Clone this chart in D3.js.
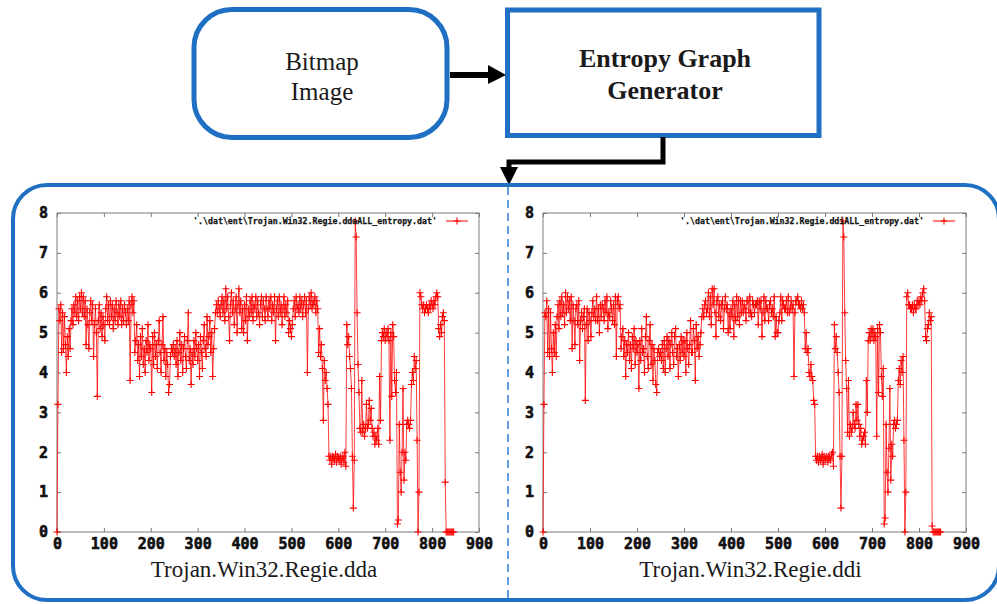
<!DOCTYPE html>
<html>
<head>
<meta charset="utf-8">
<script src="https://cdn.jsdelivr.net/npm/d3@7"></script>
<style>
  body { margin: 0; background: #fff; }
  svg { display: block; background: #fff; }
  .box { fill: none; stroke: #1f6fc2; stroke-width: 5; }
  .frame { fill: none; stroke: #7a7a7a; stroke-width: 1; }
  .tick line { stroke: #7a7a7a; }
  .series { fill: none; stroke: #ff0000; stroke-width: 0.9; stroke-opacity: 0.85; }
  .mark { fill: none; stroke: #ff0000; stroke-width: 1.1; }
</style>
</head>
<body>
<svg id="chart" width="997" height="604"></svg>
<script>
// entropy values, one every xStep blocks
const xStep = 2;

const ddaEntropy = [
  0.0, 3.2, 5.6, 5.3, 5.7, 4.5, 5.5, 4.6, 5.4, 4.7, 4.0, 4.9, 4.4, 5.1, 4.6, 5.3, 5.6, 5.2, 5.7, 5.5, 5.9, 5.4, 5.8, 5.3, 5.9,
  5.6, 6.0, 5.5, 5.9, 5.4, 5.8, 4.7, 5.6, 5.2, 4.6, 5.5, 5.8, 5.3, 5.7, 4.4, 5.2, 5.6, 5.0, 3.4, 5.3, 5.7, 5.1, 5.5, 4.9, 5.4,
  5.2, 4.8, 5.6, 5.9, 5.3, 5.7, 5.2, 5.8, 5.4, 5.7, 5.1, 5.6, 5.3, 5.8, 5.5, 5.2, 5.7, 5.4, 5.8, 5.2, 5.6, 5.3, 5.7, 5.5, 5.2,
  5.6, 5.3, 5.8, 3.8, 5.7, 5.9, 5.5, 5.8, 4.5, 4.8, 5.2, 4.3, 4.7, 3.9, 4.9, 4.4, 5.1, 4.2, 4.6, 4.0, 4.8, 4.5, 5.2, 4.3, 4.7,
  4.6, 3.5, 4.9, 4.2, 5.0, 4.4, 4.7, 4.1, 4.8, 5.3, 4.5, 4.0, 4.7, 5.4, 4.3, 4.6, 3.9, 4.5, 4.2, 3.5, 3.7, 4.4, 4.6, 4.5, 4.7,
  4.4, 4.6, 4.2, 4.8, 3.9, 4.5, 5.0, 4.3, 4.7, 4.0, 4.6, 4.9, 4.4, 4.1, 4.8, 5.5, 4.3, 4.6, 3.7, 4.5, 4.2, 4.8, 4.4, 5.0, 4.6,
  4.3, 4.7, 3.9, 4.9, 4.5, 4.1, 4.8, 5.2, 4.6, 4.4, 5.4, 4.7, 4.9, 5.3, 4.5, 5.0, 3.9, 4.6, 5.1, 5.5, 5.7, 5.5, 5.8, 5.6, 5.4,
  5.7, 5.9, 5.5, 5.8, 5.3, 6.1, 5.6, 5.9, 5.4, 4.8, 5.7, 6.0, 5.5, 5.8, 5.2, 5.6, 5.9, 5.0, 5.7, 6.1, 5.5, 5.8, 5.1, 5.6, 5.0,
  5.7, 5.3, 5.9, 4.8, 5.6, 5.4, 5.8, 5.5, 5.9, 5.3, 5.7, 5.6, 5.9, 5.4, 5.8, 5.5, 5.2, 5.7, 5.9, 5.4, 5.8, 5.6, 5.3, 5.9, 5.6,
  5.4, 5.8, 5.6, 5.9, 5.3, 5.7, 5.5, 5.9, 4.8, 5.6, 5.8, 5.4, 5.9, 5.5, 5.7, 5.2, 5.6, 5.9, 5.4, 5.7, 5.5, 5.8, 5.0, 5.3, 5.1,
  4.9, 5.2, 5.6, 5.8, 5.4, 5.9, 5.6, 5.7, 5.5, 5.9, 5.6, 5.8, 5.4, 5.7, 5.9, 5.5, 5.8, 4.0, 5.6, 5.9, 5.7, 6.0, 5.6, 5.8, 5.7,
  5.9, 5.5, 5.8, 5.6, 4.5, 5.1, 4.4, 4.7, 4.1, 2.8, 4.3, 3.8, 4.0, 3.6, 3.2, 1.9, 1.8, 1.9, 1.7, 1.9, 1.85, 1.8, 1.95, 1.75, 1.9,
  1.85, 1.8, 1.9, 1.7, 1.85, 1.9, 1.75, 2.0, 1.65, 5.2, 4.7, 4.9, 4.4, 4.1, 3.6, 1.9, 0.6, 1.8, 7.8, 7.4, 5.5, 4.2, 3.5, 2.6, 2.5,
  3.8, 2.5, 2.7, 2.4, 2.6, 3.2, 2.6, 2.7, 3.3, 2.8, 3.1, 2.6, 2.4, 2.5, 2.2, 2.4, 2.3, 2.6, 2.2, 3.9, 2.8, 4.8, 5.0, 4.9, 5.1,
  4.8, 5.0, 4.9, 5.1, 4.8, 2.3, 5.0, 3.4, 5.2, 4.9, 3.8, 3.5, 4.0, 0.2, 0.3, 2.7, 1.5, 1.0, 2.0, 3.6, 1.3, 2.0, 1.8, 2.7, 2.8,
  2.7, 2.6, 2.8, 3.7, 4.0, 3.8, 4.4, 4.1, 4.3, 2.3, 0.0, 1.0, 6.0, 5.9, 5.7, 5.6, 5.7, 5.5, 5.6, 5.7, 5.6, 5.5, 5.7, 5.6, 5.8,
  5.7, 5.6, 5.8, 5.7, 5.9, 6.0, 5.9, 5.1, 4.9, 5.2, 5.0, 5.4, 5.5, 5.3, 1.25, 0, 0, 0, 0, 0, 0, 0, 0, 0
];

const ddiEntropy = [
  0.0, 3.2, 5.5, 5.4, 5.8, 4.5, 5.6, 4.4, 5.5, 4.6, 4.0, 5.0, 4.5, 5.2, 4.4, 5.4, 5.7, 5.1, 5.8, 5.4, 5.9, 5.5, 5.7, 5.2, 6.0,
  5.5, 5.9, 5.6, 5.8, 5.3, 5.9, 4.6, 5.7, 5.3, 4.7, 5.6, 5.7, 5.2, 5.8, 4.3, 5.3, 5.5, 5.1, 5.4, 5.6, 3.3, 5.2, 5.6, 4.8, 5.5,
  5.3, 4.9, 5.5, 5.8, 5.4, 5.6, 5.3, 5.9, 5.3, 5.6, 5.0, 5.7, 5.4, 5.7, 5.6, 5.3, 5.8, 5.5, 5.9, 5.1, 5.5, 5.4, 5.8, 5.6, 5.3,
  5.7, 5.2, 5.9, 4.4, 5.8, 5.9, 5.6, 5.7, 4.6, 4.9, 5.1, 4.4, 4.8, 3.9, 4.7, 4.5, 5.0, 4.3, 4.7, 4.1, 4.9, 4.6, 5.1, 4.2, 4.8,
  4.5, 4.7, 3.6, 4.8, 4.3, 5.1, 4.5, 4.6, 4.0, 4.9, 5.4, 4.4, 4.1, 4.8, 5.2, 4.2, 4.7, 3.8, 4.6, 4.3, 3.7, 3.5, 4.5, 4.6, 4.4,
  4.5, 4.3, 4.7, 4.1, 4.8, 4.0, 4.6, 4.9, 4.4, 4.8, 4.1, 4.7, 5.0, 4.5, 4.2, 4.9, 5.1, 4.4, 4.6, 3.9, 4.7, 4.3, 4.9, 4.5, 4.8,
  4.4, 4.8, 4.0, 5.0, 4.6, 4.2, 4.7, 5.3, 4.5, 4.5, 5.1, 4.8, 3.8, 5.2, 4.6, 4.9, 4.4, 4.7, 5.0, 5.4, 5.6, 5.4, 5.7, 5.8, 5.5,
  5.6, 6.0, 5.4, 5.9, 5.2, 6.1, 5.7, 6.1, 5.5, 4.9, 5.8, 5.9, 5.4, 5.7, 5.3, 5.7, 5.8, 5.1, 5.6, 5.9, 5.6, 5.7, 5.0, 5.5, 5.1,
  5.6, 5.4, 5.8, 4.9, 5.7, 5.3, 5.9, 5.4, 5.8, 5.2, 5.8, 5.5, 5.8, 5.5, 5.7, 5.6, 5.3, 5.8, 5.8, 5.5, 5.9, 5.5, 5.4, 5.8, 5.7,
  5.5, 5.7, 5.7, 5.8, 5.2, 5.8, 5.6, 5.8, 4.9, 5.5, 5.9, 5.3, 5.8, 5.6, 5.6, 5.3, 5.7, 5.8, 5.5, 5.6, 5.4, 5.9, 4.9, 5.4, 5.0,
  5.0, 5.3, 5.5, 5.9, 5.3, 5.8, 5.7, 5.6, 5.6, 5.8, 5.5, 5.9, 5.5, 5.6, 5.8, 5.6, 5.7, 3.9, 5.5, 5.8, 5.8, 5.9, 5.7, 5.7, 5.6,
  5.8, 5.6, 5.7, 5.5, 4.6, 5.0, 4.5, 4.6, 4.0, 3.9, 4.2, 3.9, 3.8, 3.3, 3.2, 1.9, 1.8, 1.9, 1.75, 1.9, 1.8, 1.85, 1.95, 1.7, 1.9,
  1.8, 1.85, 1.9, 1.75, 1.9, 1.85, 1.8, 1.95, 2.0, 1.65, 5.2, 4.6, 4.9, 4.5, 4.0, 3.5, 1.9, 0.6, 1.9, 7.8, 7.4, 5.5, 4.3, 3.6, 2.5,
  3.8, 2.4, 2.7, 2.5, 2.6, 3.0, 2.7, 2.6, 3.2, 2.8, 3.2, 2.7, 2.4, 2.6, 2.2, 2.3, 2.4, 2.5, 2.2, 3.8, 3.0, 4.8, 5.0, 4.8, 5.1,
  4.9, 5.1, 4.8, 5.0, 4.9, 2.4, 5.1, 3.5, 5.2, 5.0, 3.9, 3.4, 4.1, 0.2, 0.35, 2.7, 1.5, 1.0, 2.1, 3.6, 1.3, 2.2, 1.9, 2.7, 2.8,
  2.6, 2.7, 2.8, 3.8, 4.1, 3.7, 4.3, 4.0, 4.4, 2.3, 0.0, 1.0, 5.9, 6.0, 5.7, 5.7, 5.6, 5.6, 5.7, 5.5, 5.7, 5.6, 5.6, 5.8, 5.7,
  5.8, 5.7, 5.9, 5.8, 6.0, 6.1, 5.8, 4.9, 4.8, 5.1, 5.2, 5.5, 5.3, 5.4, 0.15, 0, 0, 0, 0, 0, 0, 0, 0, 0
];

const xTicks = [0, 100, 200, 300, 400, 500, 600, 700, 800, 900];
const yTicks = [0, 1, 2, 3, 4, 5, 6, 7, 8];
const sampleNames = ['Trojan.Win32.Regie.dda', 'Trojan.Win32.Regie.ddi'];
const legendFiles = [
  "'.\\dat\\ent\\Trojan.Win32.Regie.ddaALL_entropy.dat'",
  "'.\\dat\\ent\\Trojan.Win32.Regie.ddiALL_entropy.dat'"
];

const serifFont = '"Liberation Serif", "Times New Roman", "DejaVu Serif", serif';
const monoFont = '"DejaVu Sans Mono", "Liberation Mono", monospace';

const svg = d3.select('#chart');

const serifText = (x, y, txt, size, weight) =>
  svg.append('text')
    .attr('x', x).attr('y', y)
    .attr('text-anchor', 'middle')
    .attr('font-family', serifFont)
    .attr('font-size', size)
    .attr('font-weight', weight || 'normal')
    .attr('fill', '#1a1a1a')
    .text(txt);

// --- flow diagram on top ---
svg.append('rect').attr('class', 'box')
  .attr('x', 194).attr('y', 9.5).attr('width', 253).attr('height', 128)
  .attr('rx', 38).attr('ry', 38);
serifText(322, 70, 'Bitmap', 25);
serifText(322, 100, 'Image', 25);

svg.append('rect').attr('class', 'box')
  .attr('x', 507.5).attr('y', 10).attr('width', 311.5).attr('height', 125.5);
serifText(665, 67, 'Entropy Graph', 26, 'bold');
serifText(665, 99, 'Generator', 26, 'bold');

// arrows
svg.append('path')
  .attr('d', 'M450,75H491')
  .attr('stroke', '#000').attr('stroke-width', 6).attr('fill', 'none');
svg.append('path').attr('d', 'M488,65L506,75L488,84Z').attr('fill', '#000');
svg.append('path')
  .attr('d', 'M663,137V162H509V170')
  .attr('stroke', '#000').attr('stroke-width', 5).attr('fill', 'none');
svg.append('path').attr('d', 'M500,167L518,167L509,185Z').attr('fill', '#000');

// outer container + dashed divider
svg.append('rect')
  .attr('x', 13).attr('y', 185).attr('width', 986).attr('height', 415)
  .attr('rx', 34).attr('ry', 34)
  .attr('fill', 'none').attr('stroke', '#1f6fc2').attr('stroke-width', 4);
svg.append('line')
  .attr('x1', 508).attr('x2', 508).attr('y1', 187).attr('y2', 598)
  .attr('stroke', '#2f7fd2').attr('stroke-width', 1.5)
  .attr('stroke-dasharray', '8,5');

// --- entropy plots ---
const plusPath = 'M-3.5,0H3.5M0,-3.5V3.5';

const drawPanel = (parent, props) => {
  const { left, width, values, name, file } = props;
  const top = 213, bottom = 532;
  const right = left + width;

  const x = d3.scaleLinear().domain([0, 900]).range([left, right]);
  const y = d3.scaleLinear().domain([0, 8]).range([bottom, top]);

  const g = parent.append('g');
  // gnuplot look: no axis line, heavy mono labels
  const styleAxis = sel => {
    sel.select('.domain').remove();
    sel.selectAll('text')
      .attr('font-family', monoFont)
      .attr('font-weight', 'bold')
      .attr('font-size', 15)
      .attr('fill', '#111')
      .attr('stroke', '#111')
      .attr('stroke-width', 0.6);
  };

  g.append('g').attr('transform', `translate(0,${bottom})`)
    .call(d3.axisBottom(x).tickValues(xTicks).tickSize(-4).tickPadding(6))
    .call(styleAxis);
  g.append('g').attr('transform', `translate(0,${top})`)
    .call(d3.axisTop(x).tickValues(xTicks).tickSize(-4).tickFormat(''))
    .call(styleAxis);
  g.append('g').attr('transform', `translate(${left},0)`)
    .call(d3.axisLeft(y).tickValues(yTicks).tickSize(-4).tickPadding(9))
    .call(styleAxis);
  g.append('g').attr('transform', `translate(${right},0)`)
    .call(d3.axisRight(y).tickValues(yTicks).tickSize(-4).tickFormat(''))
    .call(styleAxis);

  g.append('rect').attr('class', 'frame')
    .attr('x', left).attr('y', top)
    .attr('width', width).attr('height', bottom - top);

  const pts = values.map((v, i) => [i * xStep, v]);

  g.append('path').attr('class', 'series')
    .datum(pts)
    .attr('d', d3.line().x(d => x(d[0])).y(d => y(d[1])));

  g.selectAll('.mark').data(pts)
    .enter().append('path')
      .attr('class', 'mark')
      .attr('transform', d => `translate(${x(d[0])},${y(d[1])})`)
      .attr('d', plusPath);

  // key, top right
  const keyY = top + 8;
  g.append('text')
    .attr('x', right - 286).attr('y', keyY + 3)
    .attr('textLength', 244).attr('lengthAdjust', 'spacingAndGlyphs')
    .attr('font-family', monoFont)
    .attr('font-weight', 'bold').attr('font-size', 9)
    .attr('fill', '#111')
    .attr('stroke', '#111').attr('stroke-width', 0.25)
    .text(file);
  g.append('line')
    .attr('x1', right - 33).attr('x2', right - 11)
    .attr('y1', keyY).attr('y2', keyY)
    .attr('stroke', '#ff0000').attr('stroke-width', 1);
  g.append('path').attr('class', 'mark')
    .attr('transform', `translate(${right - 22},${keyY})`)
    .attr('d', plusPath);

  // sample name below the plot
  g.append('text')
    .attr('x', left + width / 2 - 4).attr('y', 577)
    .attr('text-anchor', 'middle')
    .attr('font-family', serifFont)
    .attr('font-size', 23)
    .attr('fill', '#1a1a1a')
    .text(name);
};

drawPanel(svg, { left: 57, width: 422, values: ddaEntropy, name: sampleNames[0], file: legendFiles[0] });
drawPanel(svg, { left: 543, width: 423, values: ddiEntropy, name: sampleNames[1], file: legendFiles[1] });
</script>
</body>
</html>
